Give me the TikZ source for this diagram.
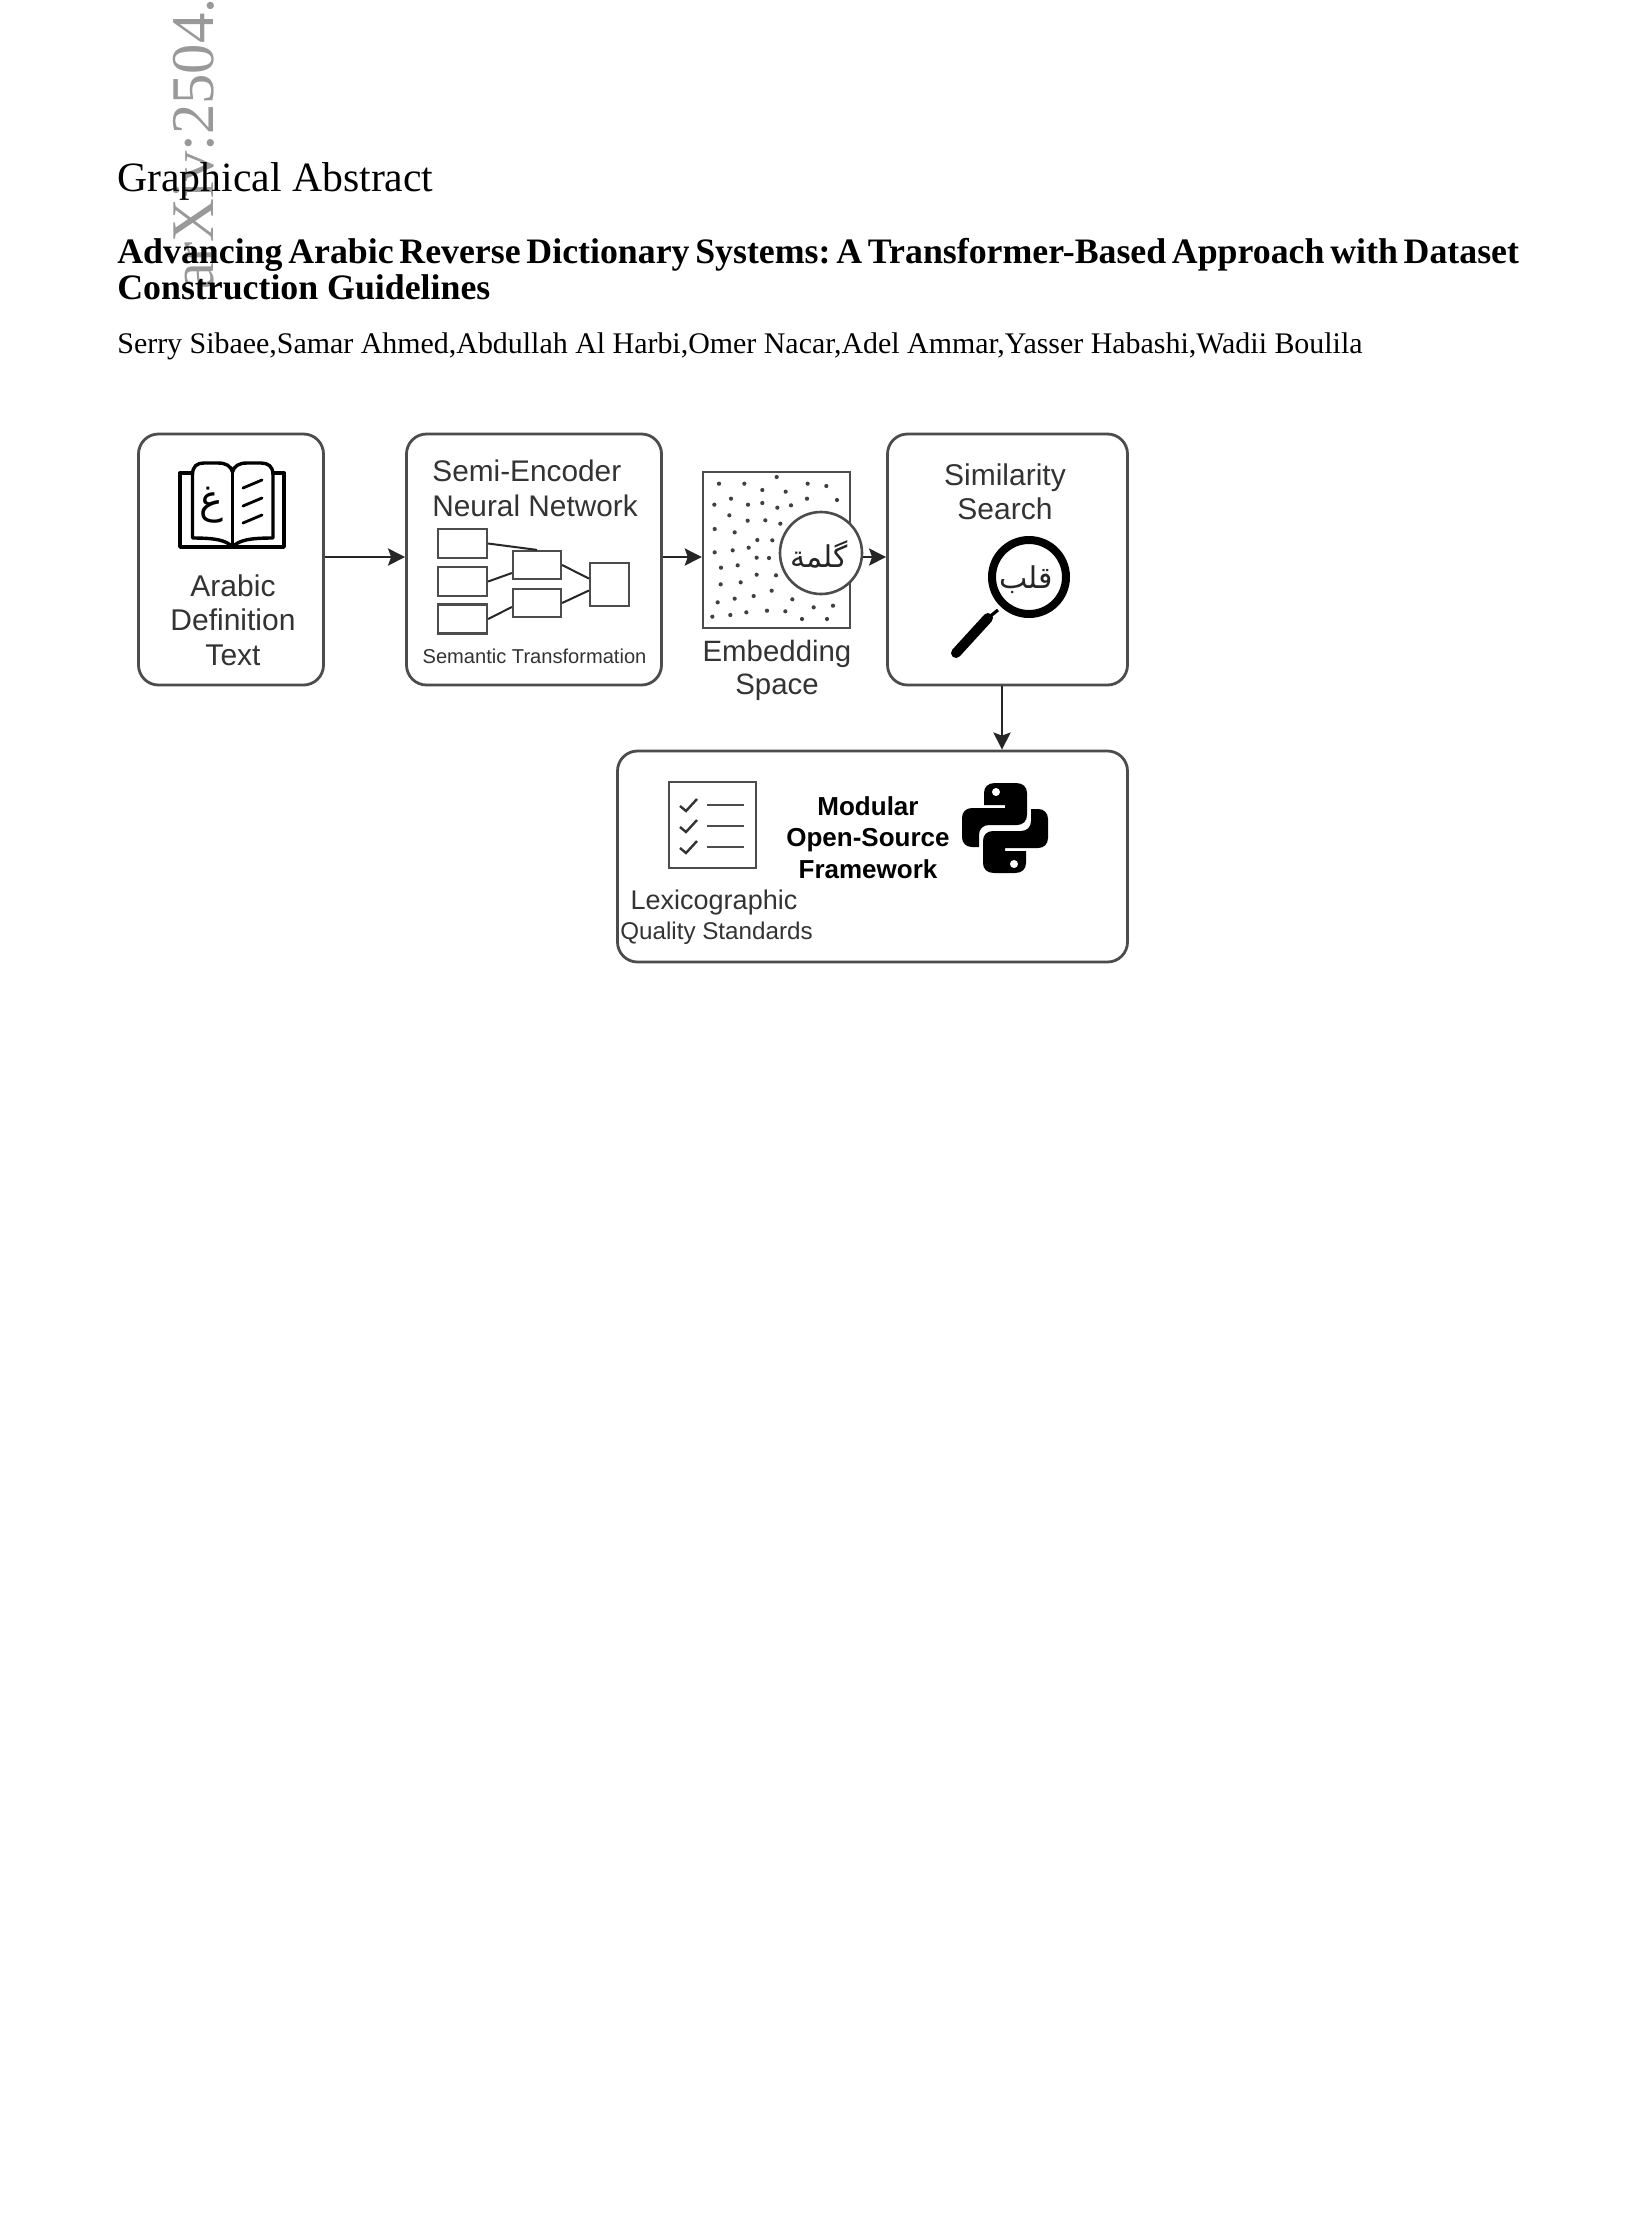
\documentclass[tikz,border=0pt]{standalone}
\usepackage{fontspec}
\usetikzlibrary{arrows.meta}
\setmainfont{Liberation Serif}
\newfontfamily\diafont{Liberation Sans}
\newfontfamily\arabicfont[Script=Arabic]{DejaVu Sans}
\TeXXeTstate=1
\definecolor{edgegray}{gray}{0.3}
\definecolor{labelgray}{gray}{0.2}
\newcommand{\dsize}[1]{\fontsize{#1}{#1}\selectfont}
\tikzset{
  pagetext/.style={inner sep=0pt,anchor=base west,text=black},
  diatext/.style={inner sep=0pt,anchor=base,align=center,text=labelgray},
  bigbox/.style={draw=edgegray,line width=1.4pt,rounded corners=10pt,fill=white,inner sep=0pt},
  nnbox/.style={draw=edgegray,line width=1.1pt,inner sep=0pt,fill=white},
  flow/.style={draw=black!85,line width=1.4pt,-{Stealth[length=8.5pt,width=8.5pt,inset=1.5pt]}},
  nnlink/.style={draw=black!85,line width=1pt},
  arabictext/.style={inner sep=0pt,font=\arabicfont\dsize{15},text=black!85},
}
\begin{document}
\begin{tikzpicture}[x=.5pt,y=-.5pt]
\fill[white] (0,0) rectangle (1633,2229);
\useasboundingbox (0,0) rectangle (1633,2229);
% arXiv stamp
\node[inner sep=0pt,anchor=base west,rotate=90,text=black!40,font=\dsize{30.3}] (stamp) at (213,290) {arXiv:2504.};
% page text
\node[pagetext,font=\dsize{20.85}] (gtitle) at (117,191.5) {Graphical Abstract};
\node[pagetext,font=\bfseries\dsize{17.9}] (t1) at (117,263) {\frenchspacing\spaceskip=2.89pt Advancing Arabic Reverse Dictionary Systems: A Transformer-Based Approach with Dataset};
\node[pagetext,font=\bfseries\dsize{17.9}] (t2) at (117,299) {Construction Guidelines};
\node[pagetext,font=\dsize{14.96}] (auth) at (117,353) {Serry Sibaee,Samar Ahmed,Abdullah Al Harbi,Omer Nacar,Adel Ammar,Yasser Habashi,Wadii Boulila};
% main boxes
\node[bigbox,minimum width=92.5pt,minimum height=125.5pt] (b1) at (231,559.5) {};
\node[bigbox,minimum width=127.5pt,minimum height=125.5pt] (b2) at (534,559.5) {};
\node[draw=edgegray,line width=1.2pt,inner sep=0pt,minimum width=73.5pt,minimum height=78pt,fill=white] (emb) at (776.5,550) {};
\node[bigbox,minimum width=120pt,minimum height=125.5pt] (b4) at (1007.5,559.5) {};
\node[bigbox,minimum width=255pt,minimum height=105.5pt] (b5) at (872.5,856.5) {};
% book
\draw[black,line width=1.7pt,line join=round] (192,473) -- (180,473) -- (180,547) -- (284,547) -- (284,473) -- (273,473);
\draw[black,line width=1.7pt,fill=white,line join=round] (232.5,547) .. controls (226,540) and (215,538) .. (192.5,538) -- (192.5,475) .. controls (192.5,466) and (197,463) .. (204,463) -- (218,463) .. controls (226,463) and (231,466) .. (232.5,472) .. controls (234,466) and (239,463) .. (247,463) -- (261,463) .. controls (268,463) and (273,466) .. (273,475) -- (273,538) .. controls (250,538) and (239,540) .. (232.5,547) -- cycle;
\draw[black,line width=1.6pt] (232.5,472) -- (232.5,547);
\draw[black,line width=1.4pt,line cap=round] (243,488) -- (262,480) (243,506) -- (262,498) (243,523) -- (262,515);
\node[inner sep=0pt,font=\arabicfont\dsize{20}] (ghain) at (211,505) {\beginR غ\endR};
\node[diatext,font=\diafont\dsize{15}] (b1t) at (233,665) {Arabic\\[2.2pt]Definition\\[2.2pt]Text};
% box 2
\node[inner sep=0pt,anchor=base west,align=left,text=labelgray,font=\diafont\dsize{14.9}] (b2t) at (432,516) {Semi-Encoder\\[2.6pt]Neural Network};
\node[nnbox,minimum width=24.5pt,minimum height=14.5pt] (r1) at (462.5,543.5) {};
\node[nnbox,minimum width=24.5pt,minimum height=14.5pt] (r2) at (462.5,581.5) {};
\node[nnbox,minimum width=24.5pt,minimum height=14.5pt] (r3) at (462.5,619) {};
\node[nnbox,minimum width=24pt,minimum height=14pt] (m1) at (537,565) {};
\node[nnbox,minimum width=24pt,minimum height=14pt] (m2) at (537,603) {};
\node[nnbox,minimum width=19.5pt,minimum height=21.5pt] (o1) at (609.5,584.5) {};
\draw[nnlink] (r1.east) -- (m1.north);
\draw[nnlink] (r2.east) -- ([yshift=-4pt]m1.west);
\draw[nnlink] (r3.east) -- ([yshift=-2pt]m2.west);
\draw[nnlink] (m1.east) -- ([yshift=3pt]o1.west);
\draw[nnlink] (m2.east) -- ([yshift=-3pt]o1.west);
\node[diatext,font=\diafont\dsize{10.05}] (semt) at (534.5,663) {Semantic Transformation};
% embedding
\foreach \a/\b in {177/221,253/221,350/201,443/221,499/228,307/240,377/245,213/266,163/284,264/284,307/279,352/293,393/286,441/266,531/270,208/316,263/332,316/331,361/341,164/357,224/367,292/390,337/391,218/421,266/413,164/427,290/443,327/444,183/473,233/466,290/494,348/496,182/523,242/517,335/542,224/566,281/558,397/568,173/577,461/592,519/587,157/620,211/615,259/607,321/602,376/604,426/627,501/627}
  \fill[black!75] ({660+\a/3},{410+\b/3}) circle (1.05pt);
\node[circle,draw=edgegray,line width=1.3pt,fill=white,minimum size=41pt,inner sep=0pt] (word) at (821,553) {};
\node[arabictext] (wordtext) at (819,554) {\beginR گلمة\endR};
\node[diatext,font=\diafont\dsize{14.7}] (embt) at (777,694.5) {Embedding\\[1.6pt]Space};
% box 4
\node[diatext,font=\diafont\dsize{15}] (b4t) at (1005,519) {Similarity\\[1.7pt]Search};
\draw[black,line width=5pt,line cap=round] (988,618) -- (956,653);
\draw[black,line width=1.6pt] (988,618) -- (998,610);
\node[circle,draw=black,line width=4pt,fill=white,minimum size=37pt,inner sep=0pt] (lens) at (1029,577) {};
\node[arabictext] (lenstext) at (1026,580) {\beginR قلب\endR};
% box 5
\node[draw=edgegray,line width=1.2pt,inner sep=0pt,minimum width=43.5pt,minimum height=43pt] (chk) at (712.5,825) {};
\foreach \y in {0,21,42}{
  \draw[black!80,line width=1.2pt] (680,806+\y) -- (686,811+\y) -- (697,799+\y);
  \draw[edgegray,line width=1.2pt] (707,805+\y) -- (744,805+\y);
}
\node[diatext,font=\bfseries\diafont\dsize{13},text=black] (b5t) at (868,878) {Modular\\[2.7pt]Open-Source\\[2.7pt]Framework};
\node[diatext,font=\diafont\dsize{13.5}] (lex) at (714,909) {Lexicographic};
\node[diatext,font=\diafont\dsize{12.1}] (qual) at (716.5,939) {Quality Standards};
% python logo
\foreach \r in {0,180}{
  \begin{scope}[shift={(1005,828)},rotate=\r]
    \fill[black] (-21,-35) .. controls (-21,-41) and (-17,-45) .. (-10,-45) -- (11,-45) .. controls (18,-45) and (22,-41) .. (22,-35) -- (22,-13) .. controls (22,-7) and (18,-3) .. (12,-3) -- (-16,-3) .. controls (-22,-3) and (-26,1) .. (-26,7) -- (-26,19) -- (-33,19) .. controls (-39,19) and (-43,15) .. (-43,9) -- (-43,-10) .. controls (-43,-16) and (-39,-20) .. (-33,-20) -- (0,-20) -- (0,-23) -- (-21,-23) -- cycle;
    \fill[white] (-9,-36) circle (2pt);
  \end{scope}
}
% connectors
\coordinate (flowy) at (0,557);
\coordinate (downx) at (1002,0);
\draw[flow] (b1.east |- flowy) -- (b2.west |- flowy);
\draw[flow] (b2.east |- flowy) -- (emb.west |- flowy);
\draw[flow] (word.east |- flowy) -- (b4.west |- flowy);
\draw[flow] (b4.south -| downx) -- (b5.north -| downx);
\end{tikzpicture}
\end{document}
